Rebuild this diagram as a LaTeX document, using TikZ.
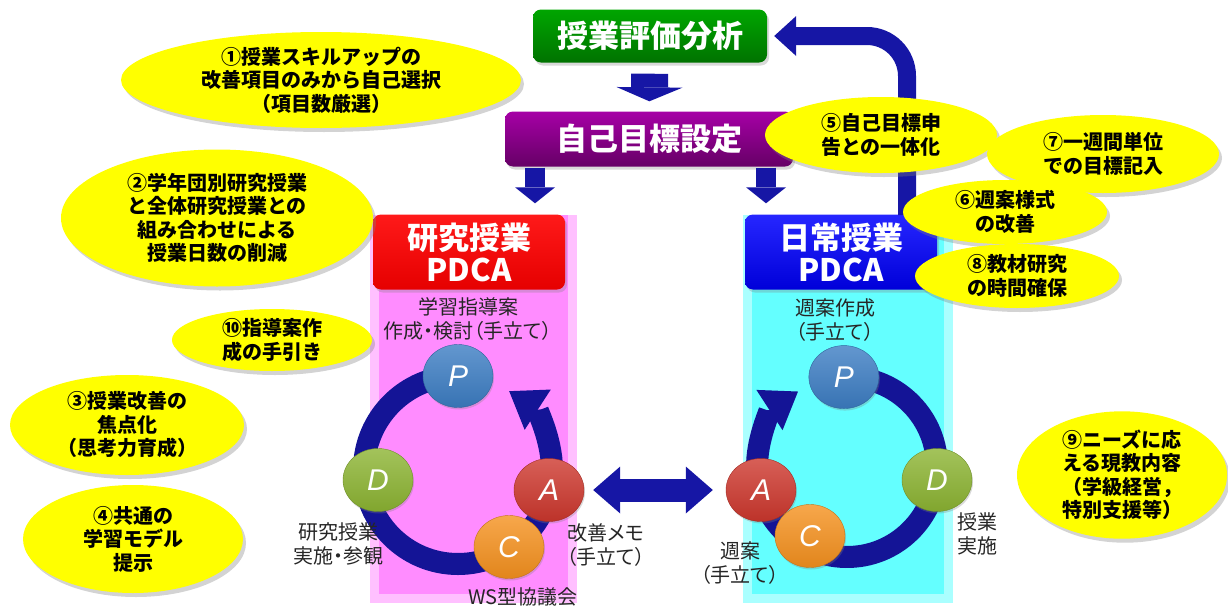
\documentclass[tikz,border=0pt]{standalone}
\usepackage{fontspec}
\setmainfont{Noto Sans CJK JP}
\newfontfamily\paltfont{Noto Sans CJK JP}[RawFeature=+palt]
\newfontfamily\lettfont{Liberation Sans}
\usetikzlibrary{arrows.meta,calc,shapes.geometric,shadows}

\definecolor{arrowblue}{RGB}{22,22,165}
\definecolor{ringblue}{RGB}{20,20,150}
\definecolor{bgpink}{RGB}{255,140,255}
\definecolor{bgcyan}{RGB}{100,255,255}
\definecolor{notey}{RGB}{255,255,0}
\definecolor{ballP}{RGB}{60,125,195}
\definecolor{ballD}{RGB}{140,180,50}
\definecolor{ballC}{RGB}{245,145,30}
\definecolor{ballA}{RGB}{205,55,45}

\tikzset{
  box/.style={rounded corners=8pt, text=white, align=center,
    font=\fontsize{31}{32}\selectfont\bfseries,
    drop shadow={shadow xshift=2pt, shadow yshift=-3pt, opacity=0.3}},
  note/.style={ellipse, fill=notey, inner sep=0pt, align=center,
    font=\fontsize{20}{23.5}\selectfont\bfseries,
    drop shadow={shadow xshift=3pt, shadow yshift=-4pt, opacity=0.35}},
  ball/.style={ellipse, minimum width=70pt, minimum height=63pt,
    top color=#1!80!white, bottom color=#1!92!black, draw=#1!80!black,
    text=white, font=\lettfont\itshape\fontsize{30}{30}\selectfont,
    drop shadow={shadow xshift=1pt, shadow yshift=-2pt, opacity=0.3}},
  lbl/.style={align=center, inner sep=0pt, text=black!85,
    font=\paltfont\fontsize{20}{24}\selectfont},
  ring/.style={ringblue, line width=22pt,
    -{Triangle[length=34pt,width=48pt,line width=0pt]}}
}

\begin{document}
\begin{tikzpicture}[x=1pt,y=-1pt]
  \useasboundingbox (0,0) rectangle (1228,608);
  % backgrounds of the two cycles
  \fill[bgpink!55] (370,215) rectangle (577,603);
  \fill[bgpink] (379,215) rectangle (568,594);
  \fill[bgcyan!55] (743,215) rectangle (953,603);
  \fill[bgcyan] (752,215) rectangle (944,594);

  \begin{scope}[every node/.style={box}]
    \node (Hyoka) [top color=green!65!black, bottom color=green!45!black,
      minimum width=234pt, minimum height=53pt] at (650,36) {授業評価分析};
    \node (Mokuhyo) [top color=violet!70!magenta, bottom color=violet!80!black,
      minimum width=288pt, minimum height=55pt] at (649,139) {自己目標設定};
    \node (Kenkyu) [top color=red!90!white, bottom color=red!90!black,
      minimum width=192pt, minimum height=75pt] at (469,252) {研究授業\\PDCA};
    \node (Nichijo) [top color=blue!85!white, bottom color=blue!85!black,
      minimum width=192pt, minimum height=75pt] at (841,252) {日常授業\\PDCA};
  \end{scope}

  % block arrows
  \coordinate (kx) at (535,0);
  \coordinate (nx) at (766,0);
  \coordinate (back) at (907,215);
  \draw[arrowblue, line width=37pt, -{Triangle[length=14pt,width=66pt,line width=0pt]},
    shorten <=11pt, shorten >=10pt] (Hyoka) -- (Mokuhyo);
  \draw[arrowblue, line width=20pt, -{Triangle[length=16pt,width=40pt,line width=0pt]},
    shorten <=1pt, shorten >=11pt] (Mokuhyo.south -| kx) -- (Kenkyu.north -| kx);
  \draw[arrowblue, line width=20pt, -{Triangle[length=16pt,width=40pt,line width=0pt]},
    shorten <=1pt, shorten >=11pt] (Mokuhyo.south -| nx) -- (Nichijo.north -| nx);
  \draw[arrowblue, line width=18pt, rounded corners=40pt,
    -{Triangle[length=22pt,width=40pt,line width=0pt]}, shorten >=7pt]
    (back) |- (Hyoka.east);

  % research lesson cycle
  \coordinate (kc) at (458,470);
  \coordinate (kp0) at ($(kc)+(270:94)$);
  \draw[ring] (kp0) arc[start angle=270, end angle=-57, radius=94];
  \node (KP) [ball=ballP] at (kp0) {P};
  \node (KD) [ball=ballD] at (378,480) {D};
  \node (KA) [ball=ballA] at (549,490) {A};
  \node (KC) [ball=ballC] at (509,547) {C};

  % daily lesson cycle
  \coordinate (nc) at (847,467);
  \coordinate (np0) at ($(nc)+(-92:90)$);
  \draw[ring] (np0) arc[start angle=-92, end angle=237, radius=90];
  \node (NP) [ball=ballP] at (np0) {P};
  \node (ND) [ball=ballD] at (937,480) {D};
  \node (NA) [ball=ballA] at (761,490) {A};
  \node (NC) [ball=ballC] at (810,536) {C};

  \draw[arrowblue, line width=23pt,
    {Triangle[length=27pt,width=47pt,line width=0pt]}-{Triangle[length=27pt,width=47pt,line width=0pt]},
    shorten <=9pt, shorten >=13pt] (KA.east) -- (NA.west);

  \begin{scope}[every node/.style={lbl}]
    \node (kp) at (468,319) {学習指導案\\作成・検討（手立て）};
    \node (kd) at (338,544) {研究授業\\実施・参観};
    \node (ka) at (606,545) {改善メモ\\（手立て）};
    \node (kk) at (523,597) {WS型協議会};
    \node (np) at (835,320) {週案作成\\（手立て）};
    \node (nd) at (977,534) {授業\\実施};
    \node (na) at (740,563) {週案\\（手立て）};
  \end{scope}

  \begin{scope}[every node/.style={note}]
    \node (N1) [minimum width=400pt, minimum height=96pt] at (321,80)
      {①授業スキルアップの\\改善項目のみから自己選択\\（項目数厳選）};
    \node (N2) [minimum width=312pt, minimum height=137pt] at (217,218)
      {②学年団別研究授業\\と全体研究授業との\\組み合わせによる\\授業日数の削減};
    \node (N10) [minimum width=200pt, minimum height=62pt] at (272,340)
      {⑩指導案作\\成の手引き};
    \node (N3) [minimum width=234pt, minimum height=100pt] at (127,425)
      {③授業改善の\\焦点化\\（思考力育成）};
    \node (N4) [minimum width=220pt, minimum height=108pt] at (133,539)
      {④共通の\\学習モデル\\提示};
    \node (N5) [minimum width=232pt, minimum height=76pt] at (881,135)
      {⑤自己目標申\\告との一体化};
    \node (N7) [minimum width=232pt, minimum height=78pt] at (1103,154)
      {⑦一週間単位\\での目標記入};
    \node (N6) [minimum width=204pt, minimum height=64pt] at (1005,212)
      {⑥週案様式\\の改善};
    \node (N8) [minimum width=204pt, minimum height=64pt] at (1017,276)
      {⑧教材研究\\の時間確保};
    \node (N9) [minimum width=210pt, minimum height=124pt] at (1122,475)
      {⑨ニーズに応\\える現教内容\\（学級経営，\\特別支援等）};
  \end{scope}
\end{tikzpicture}
\end{document}
